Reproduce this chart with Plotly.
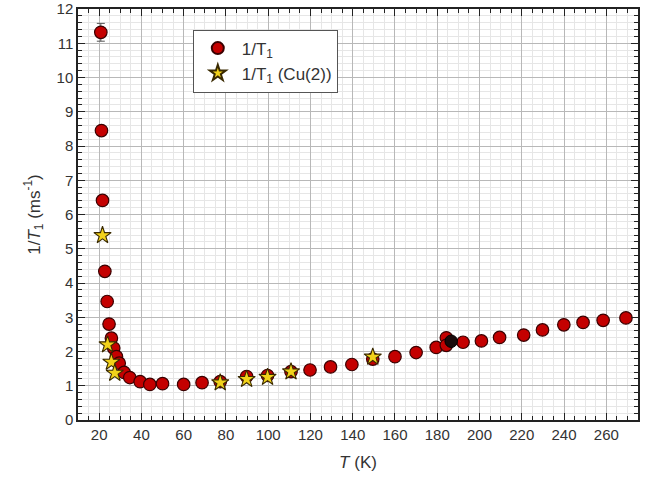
import plotly.graph_objects as go

# 1/T1 (all)
T_all = [20.8, 21.1, 21.6, 22.7, 23.8, 24.7, 25.8, 26.9, 28.2, 29.5, 31.8, 34.5, 39.4, 44.0,
         50.0, 60.0, 68.7, 77.3, 89.8, 99.7, 110.8, 119.8, 129.5, 139.6, 149.5, 160.0, 170.0,
         179.5, 184.3, 184.3, 192.2, 200.9, 209.5, 220.9, 229.8, 239.9, 249.0, 258.5, 269.3]
R_all = [11.32, 8.45, 6.41, 4.34, 3.46, 2.80, 2.39, 2.10, 1.85, 1.66, 1.39, 1.24, 1.12, 1.04,
         1.06, 1.04, 1.09, 1.12, 1.27, 1.30, 1.41, 1.46, 1.55, 1.62, 1.78, 1.85, 1.97,
         2.12, 2.40, 2.18, 2.27, 2.31, 2.41, 2.48, 2.63, 2.78, 2.85, 2.91, 2.98]
E_all = [0.26] + [0.0] * (len(T_all) - 1)

# 1/T1 (Cu(2))
T_cu = [21.6, 24.0, 25.8, 27.4, 77.3, 89.8, 99.7, 110.8, 149.5]
R_cu = [5.39, 2.20, 1.69, 1.37, 1.09, 1.19, 1.25, 1.41, 1.84]

# dark extra point
T_dark = [186.6]
R_dark = [2.30]

x_ticks = list(range(20, 261, 20))
y_ticks = list(range(0, 13, 1))

FONT = "Liberation Sans, Arial"

fig = go.Figure()
fig.add_trace(go.Scatter(
    x=T_all, y=R_all, mode="markers", name="1/T<sub>1</sub>",
    error_y=dict(type="data", array=E_all, color="#555555", thickness=1, width=4),
    marker=dict(symbol="circle", size=12.5, color="#c40000", line=dict(color="#3a0000", width=1.2)),
))
fig.add_trace(go.Scatter(
    x=T_dark, y=R_dark, mode="markers", showlegend=False,
    marker=dict(symbol="circle", size=12.5, color="#1a0a0a", line=dict(color="#000000", width=1)),
))
fig.add_trace(go.Scatter(
    x=T_cu, y=R_cu, mode="markers", name="1/T<sub>1</sub> (Cu(2))",
    marker=dict(symbol="star", size=13, color="#f2d21a", line=dict(color="#3a2a00", width=1.1)),
))

axis_common = dict(
    showline=True, linecolor="#222222", linewidth=1.5, mirror="allticks",
    ticks="inside", ticklen=7, tickwidth=1.3, tickcolor="#222222",
    showgrid=True, gridcolor="#b8b8b8", gridwidth=1,
    zeroline=False, automargin=False,
    tickfont=dict(family=FONT, size=15, color="#333333"),
)

fig.update_xaxes(
    range=[10, 275], tickvals=x_ticks,
    minor=dict(dtick=5, ticks="inside", ticklen=4, tickcolor="#222222",
               showgrid=True, gridcolor="#e6e6e6", gridwidth=1),
    title=dict(text="<i>T</i> (K)", font=dict(family=FONT, size=17, color="#333333"),
               standoff=14),
    **axis_common,
)
fig.update_yaxes(
    range=[0, 12], tickvals=y_ticks,
    minor=dict(dtick=0.2, ticks="inside", ticklen=4, tickcolor="#222222",
               showgrid=True, gridcolor="#e6e6e6", gridwidth=1),
    title=dict(text="1/<i>T</i><sub>1</sub> (ms<sup>-1</sup>)",
               font=dict(family=FONT, size=17, color="#333333"), standoff=12),
    **axis_common,
)

fig.update_layout(
    width=651, height=484,
    margin=dict(l=78, r=13, t=9, b=64),
    paper_bgcolor="white", plot_bgcolor="white",
    showlegend=True,
    legend=dict(
        x=0.205, y=0.95, xanchor="left", yanchor="top",
        bgcolor="white", bordercolor="#555555", borderwidth=1,
        font=dict(family=FONT, size=17, color="#333333"),
        itemsizing="constant", itemwidth=38, tracegroupgap=0,
    ),
)

fig.write_html("out.html", config={"displayModeBar": False},
               post_script="document.body.style.margin='0';")
